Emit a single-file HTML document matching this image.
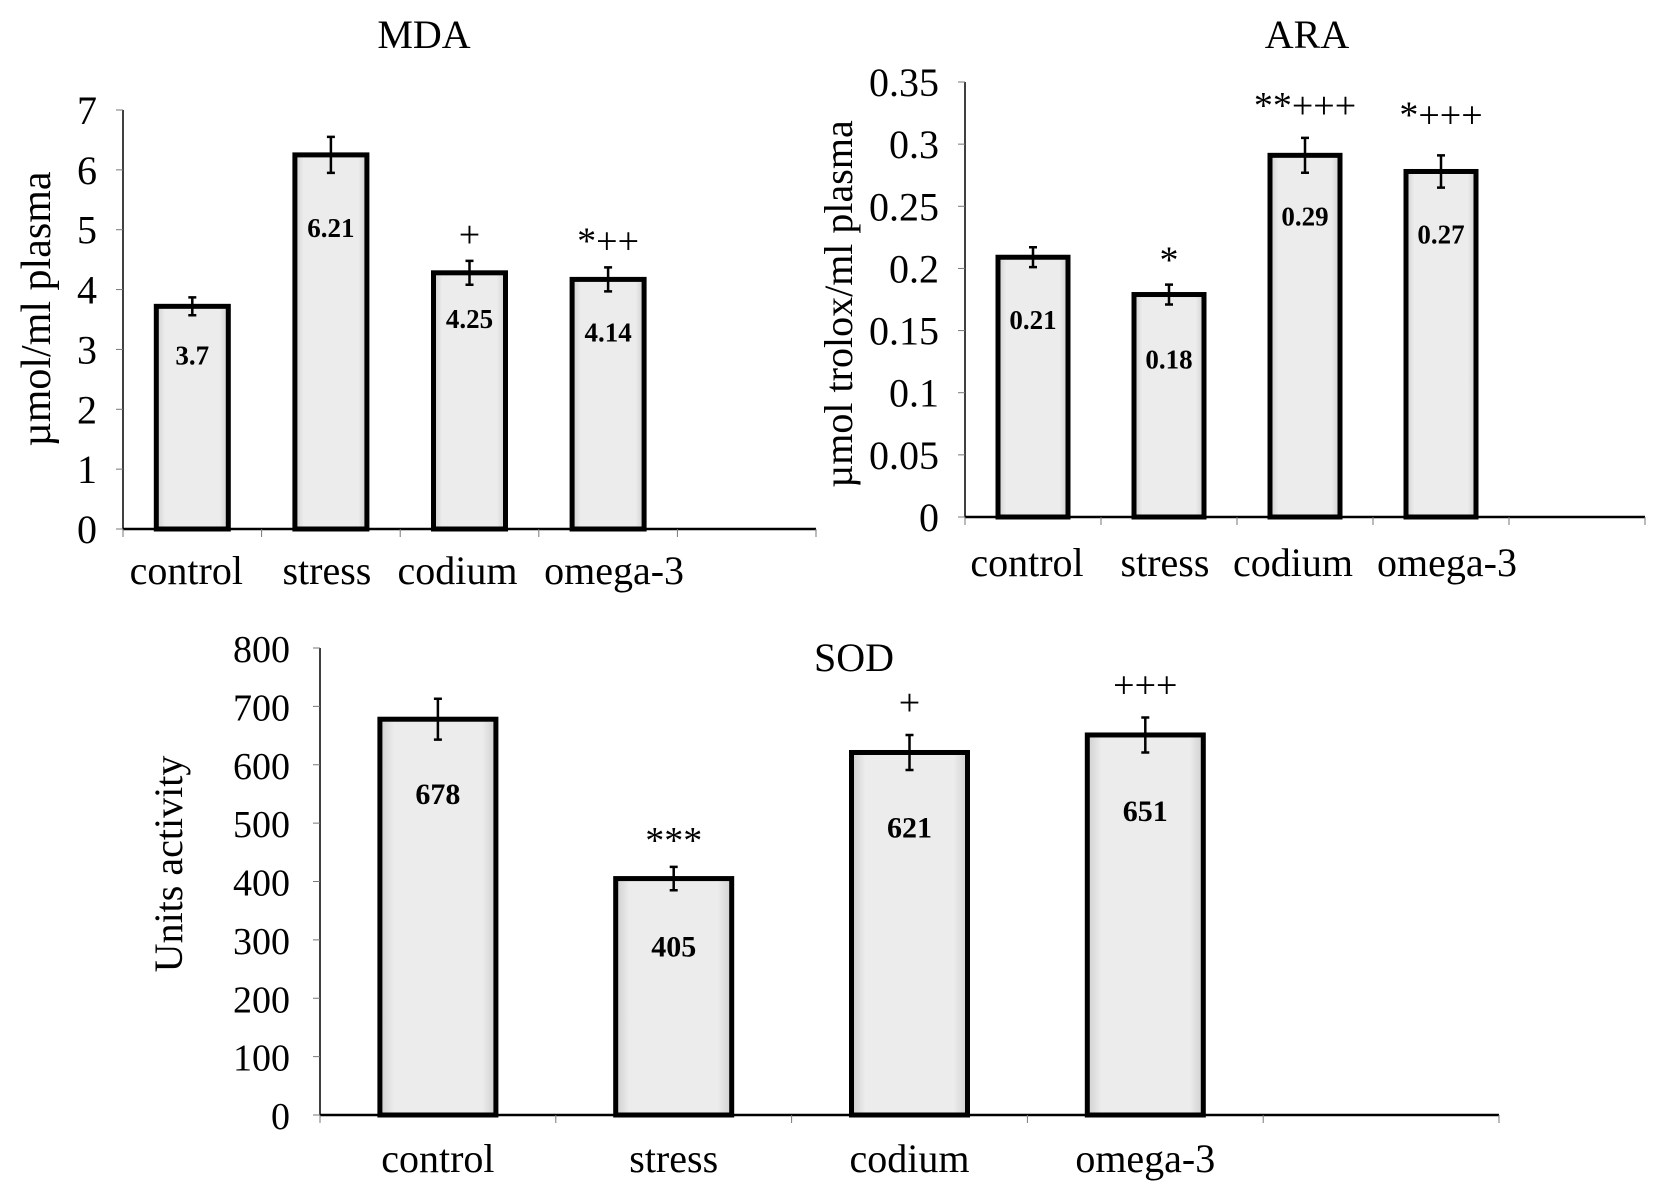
<!DOCTYPE html>
<html><head><meta charset="utf-8"><style>
body{margin:0;background:#fff;}
svg{display:block;font-family:"Liberation Serif",serif;}
</style></head><body>
<svg id="fig" width="1664" height="1193" viewBox="0 0 1664 1193">
<defs>
<linearGradient id="barGrad" x1="0" x2="1" y1="0" y2="0">
<stop offset="0" stop-color="#cfcfcf"/><stop offset="0.12" stop-color="#ececec"/><stop offset="0.88" stop-color="#ececec"/><stop offset="1" stop-color="#cfcfcf"/>
</linearGradient>
</defs>
</svg>
<script>
const categories = ["control","stress","codium","omega-3"];
const mdaValues = [3.72, 6.25, 4.28, 4.17];
const mdaLabels = ["3.7","6.21","4.25","4.14"];
const mdaErrors = [0.15, 0.3, 0.2, 0.2];
const mdaMarks = ["","","+","*++"];
const mdaTicks = ["0","1","2","3","4","5","6","7"];
const araValues = [0.209, 0.179, 0.291, 0.278];
const araLabels = ["0.21","0.18","0.29","0.27"];
const araErrors = [0.008, 0.008, 0.014, 0.013];
const araMarks = ["","*","**+++","*+++"];
const araTicks = ["0","0.05","0.1","0.15","0.2","0.25","0.3","0.35"];
const sodValues = [678, 405, 621, 651];
const sodLabels = ["678","405","621","651"];
const sodErrors = [35, 20, 30, 30];
const sodMarks = ["","***","+","+++"];
const sodTicks = ["0","100","200","300","400","500","600","700","800"];

const svg = document.getElementById('fig');
const NS = "http://www.w3.org/2000/svg";
function mk(tag, attrs, parent){
  const e = document.createElementNS(NS, tag);
  for (const k in attrs) e.setAttribute(k, attrs[k]);
  (parent||svg).appendChild(e);
  return e;
}
function chart(cfg){
  const g = mk('g', {});
  
  
  const yScale = v => cfg.y0 - (v - 0) / cfg.max * (cfg.y0 - cfg.yTop);
  const step = (cfg.xEnd - cfg.x0) / 5;
  const xCenter = i => cfg.x0 + step * (i + 0.5);
  const t = mk('text', {x: cfg.titleX, y: cfg.titleY, 'font-size': 40, 'text-anchor': 'middle'}, g);
  t.textContent = cfg.title;
  
  
  const ya = mk('line', {x1: cfg.x0, x2: cfg.x0, y1: cfg.yTop, y2: cfg.y0, stroke: '#000', 'stroke-width': 1.5}, g);
  
  
  cfg.ticks.forEach((lab, i) => {
    const v = cfg.max * i / (cfg.ticks.length - 1);
    const y = yScale(v);
    mk('line', {x1: cfg.x0 - 7, x2: cfg.x0, y1: y, y2: y, stroke: '#777', 'stroke-width': 1}, g);
    const tt = mk('text', {x: cfg.x0 - cfg.tickGap, y: y + 14, 'font-size': cfg.tickSize, 'text-anchor': 'end'}, g);
    tt.textContent = lab;
    
    
  });
  const yt = mk('text', {x: 0, y: 0, 'font-size': cfg.yTitleSize, 'text-anchor': 'middle', transform: `translate(${cfg.yTitleX},${cfg.yTitleY}) rotate(-90)`}, g);
  yt.textContent = cfg.yTitle;
  
  
  const xa = mk('line', {x1: cfg.x0, x2: cfg.xEnd, y1: cfg.y0, y2: cfg.y0, stroke: '#000', 'stroke-width': 2.5}, g);
  
  
  for (let i = 0; i <= 5; i++) {
    const x = cfg.x0 + step * i;
    mk('line', {x1: x, x2: x, y1: cfg.y0, y2: cfg.y0 + 8, stroke: '#777', 'stroke-width': 1}, g);
  }
  categories.forEach((c, i) => {
    const cx = xCenter(i);
    const top = yScale(cfg.values[i]);
    const b = mk('rect', {x: cx - cfg.bw/2, y: top, width: cfg.bw, height: cfg.y0 - top, fill: 'url(#barGrad)', stroke: '#000', 'stroke-width': 5}, g);
    
    
    const e1 = yScale(cfg.values[i] + cfg.errors[i]), e2 = yScale(cfg.values[i] - cfg.errors[i]);
    const eb = mk('path', {d: `M${cx},${e1}V${e2}M${cx-4},${e1}H${cx+4}M${cx-4},${e2}H${cx+4}`, stroke: '#000', 'stroke-width': 2.5, fill: 'none'}, g);
    
    
    const vl = mk('text', {x: cx, y: top + cfg.labelDy[i], 'font-size': cfg.valSize, 'font-weight': 'bold', 'text-anchor': 'middle'}, g);
    vl.textContent = cfg.labels[i];
    
    
    if (cfg.marks[i]) {
      const ml = mk('text', {x: cx, y: e1 - cfg.markDy[i], 'font-size': 38, 'text-anchor': 'middle'}, g);
      ml.textContent = cfg.marks[i];
      
      
    }
    const cl = mk('text', {x: cx + cfg.catDx[i], y: cfg.catY, 'font-size': cfg.catSize, 'text-anchor': 'middle'}, g);
    cl.textContent = c;
    
    
  });
}
chart({name:'mda', title:'MDA', titleX:424, titleY:48, x0:123, xEnd:816, yTop:110, y0:529, max:7,
  ticks:mdaTicks, values:mdaValues, labels:mdaLabels, errors:mdaErrors, marks:mdaMarks,
  bw:72, tickSize:40, tickGap:26, catSize:40, catY:584, valSize:27, catDx:[-6,-4,-12,6],
  yTitle:'µmol/ml plasma', yTitleX:50, yTitleY:309, yTitleSize:42,
  labelDy:[58,82,55,62], markDy:[0,0,14,14]});
chart({name:'ara', title:'ARA', titleX:1307, titleY:48, x0:965, xEnd:1645, yTop:82, y0:517, max:0.35,
  ticks:araTicks, values:araValues, labels:araLabels, errors:araErrors, marks:araMarks,
  bw:70, tickSize:40, tickGap:26, catSize:40, catY:576, valSize:27, catDx:[-6,-4,-12,6],
  yTitle:'µmol trolox/ml plasma', yTitleX:852, yTitleY:304, yTitleSize:40,
  labelDy:[72,74,70,72], markDy:[0,12,20,28]});
chart({name:'sod', title:'SOD', titleX:854, titleY:671, x0:320, xEnd:1499, yTop:648, y0:1115, max:800,
  ticks:sodTicks, values:sodValues, labels:sodLabels, errors:sodErrors, marks:sodMarks,
  bw:116, tickSize:38, tickGap:30, catSize:40, catY:1172, valSize:30, catDx:[0,0,0,0],
  yTitle:'Units activity', yTitleX:182, yTitleY:864, yTitleSize:40,
  labelDy:[85,78,85,86], markDy:[0,14,20,20]});
</script>
</body></html>
